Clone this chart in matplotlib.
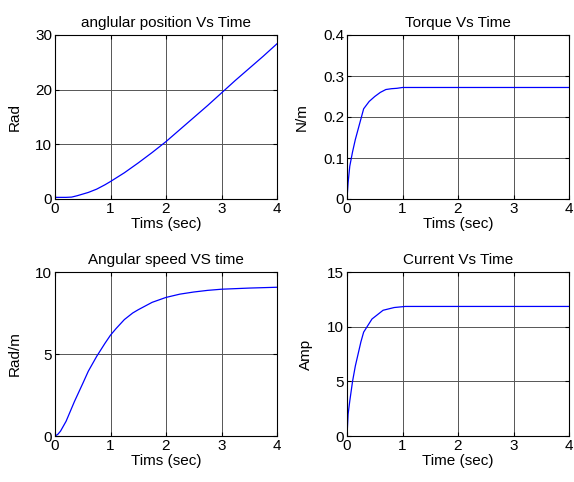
import numpy as np
import matplotlib
matplotlib.use("Agg")
from matplotlib import pyplot as plt

# angular position (rad)
t_pos = [0, 0.1, 0.2, 0.3, 0.4, 0.5, 0.6, 0.75, 0.9, 1.0, 1.25, 1.5, 1.75, 2.0, 2.25, 2.5, 2.75, 3.0, 3.25, 3.5, 3.75, 4.0]
pos = [0.3, 0.3, 0.3, 0.35, 0.6, 0.9, 1.2, 1.8, 2.6, 3.2, 4.8, 6.6, 8.5, 10.5, 12.7, 14.9, 17.1, 19.4, 21.7, 23.9, 26.1, 28.4]

# torque (N/m)
t_tq = [0, 0.02, 0.05, 0.1, 0.15, 0.2, 0.25, 0.3, 0.4, 0.5, 0.6, 0.7, 0.8, 0.9, 1.0, 4.0]
tq = [0, 0.04, 0.08, 0.115, 0.145, 0.17, 0.195, 0.22, 0.238, 0.25, 0.26, 0.267, 0.269, 0.27, 0.272, 0.272]

# angular speed (rad/m)
t_sp = [0, 0.05, 0.1, 0.15, 0.2, 0.25, 0.35, 0.5, 0.6, 0.75, 0.9, 1.0, 1.1, 1.25, 1.4, 1.5, 1.75, 2.0, 2.25, 2.5, 2.75, 3.0, 3.5, 4.0]
sp = [0, 0.1, 0.3, 0.6, 0.9, 1.3, 2.1, 3.2, 3.95, 4.85, 5.65, 6.15, 6.55, 7.1, 7.5, 7.7, 8.15, 8.45, 8.65, 8.78, 8.88, 8.95, 9.02, 9.07]

# current (A)
t_cur = [0, 0.02, 0.05, 0.1, 0.15, 0.2, 0.25, 0.3, 0.45, 0.55, 0.65, 0.85, 1.05, 4.0]
cur = [0, 2.0, 3.2, 5.0, 6.4, 7.5, 8.6, 9.5, 10.7, 11.1, 11.5, 11.75, 11.85, 11.85]

plt.rcParams['font.family'] = ['Liberation Sans', 'DejaVu Sans']
plt.rcParams['font.size'] = 11

fig = plt.figure(figsize=(5.74, 4.82), dpi=100)
W, H = 222 / 574, 164 / 482
x_l, x_r = 55 / 574, 347 / 574
y_t, y_b = 283 / 482, 46 / 482

panels = [
    ((x_l, y_t), t_pos, pos, (0, 30), [0, 10, 20, 30], "anglular position Vs Time", "Tims (sec)", "Rad"),
    ((x_r, y_t), t_tq, tq, (0, 0.4), [0, 0.1, 0.2, 0.3, 0.4], "Torque Vs Time", "Tims (sec)", "N/m"),
    ((x_l, y_b), t_sp, sp, (0, 10), [0, 5, 10], "Angular speed VS time", "Tims (sec)", "Rad/m"),
    ((x_r, y_b), t_cur, cur, (0, 15), [0, 5, 10, 15], "Current Vs Time", "Time (sec)", "Amp"),
]

for (x0, y0), t, y, ylim, yt, title, xl, yl in panels:
    ax = fig.add_axes([x0, y0, W, H])
    ax.plot(t, y, color="blue", lw=0.9)
    ax.set_xlim(0, 4)
    ax.set_ylim(*ylim)
    ax.set_xticks([0, 1, 2, 3, 4])
    ax.set_yticks(yt)
    ax.set_yticklabels([f"{v:g}" for v in yt])
    ax.grid(True, color="#555555", lw=0.7)
    ax.tick_params(direction="in", top=True, right=True, length=3, pad=2)
    ax.set_title(title, fontsize=11, pad=6)
    ax.set_xlabel(xl, labelpad=1)
    ax.set_ylabel(yl, labelpad=10)

fig.savefig("out.png", dpi=100)
